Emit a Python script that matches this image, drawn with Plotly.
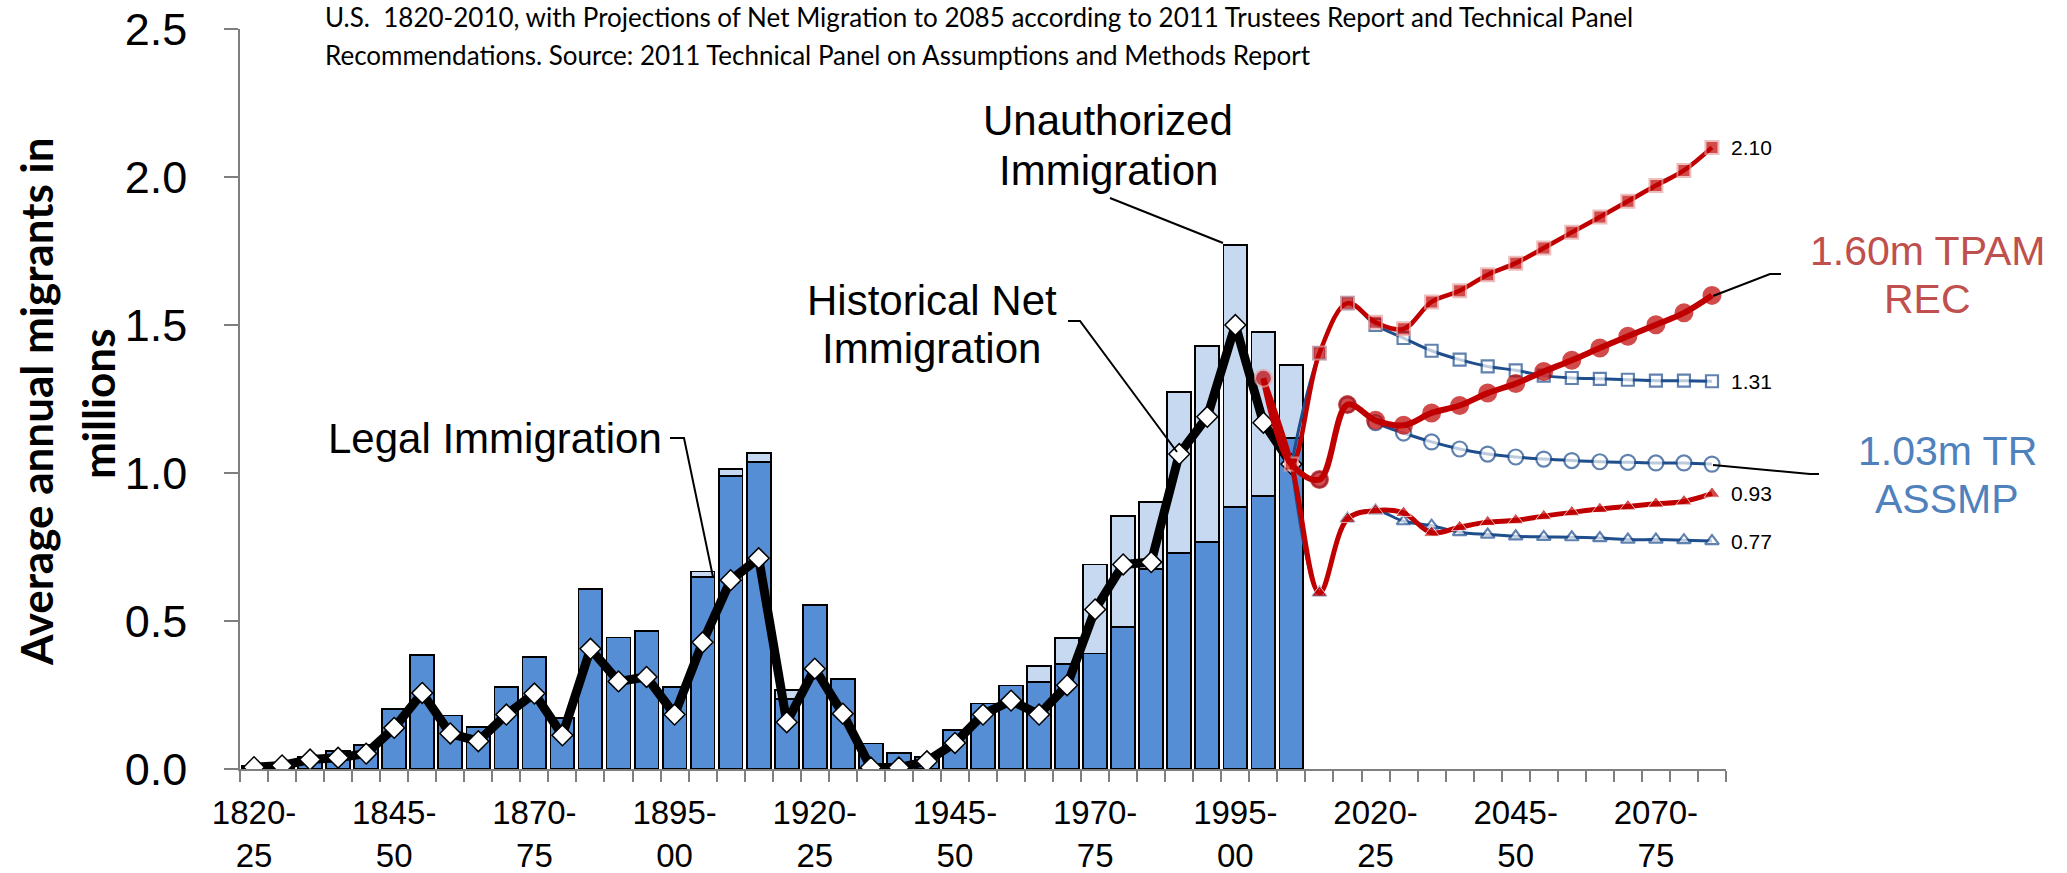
import plotly.graph_objects as go

# ---------------- data ----------------
period_labels = [f"{y}-{str(y + 5)[-2:]}" for y in range(1820, 2085, 5)]  # 1820-25 ... 2080-85

tick_positions = [0, 5, 10, 15, 20, 25, 30, 35, 40, 45, 50]
tick_labels = ["1820-<br>25", "1845-<br>50", "1870-<br>75", "1895-<br>00", "1920-<br>25",
               "1945-<br>50", "1970-<br>75", "1995-<br>00", "2020-<br>25", "2045-<br>50",
               "2070-<br>75"]

# historical (1820-25 .. 2005-10), millions per year
legal = [0.010, 0.020, 0.042, 0.060, 0.080, 0.204, 0.384, 0.181, 0.142, 0.278,
         0.378, 0.173, 0.608, 0.444, 0.465, 0.278, 0.650, 0.989, 1.036, 0.237,
         0.555, 0.305, 0.086, 0.055, 0.041, 0.133, 0.221, 0.282, 0.293, 0.356,
         0.390, 0.480, 0.676, 0.730, 0.767, 0.885, 0.921, 1.118]
unauthorized = [0, 0, 0, 0, 0, 0, 0, 0, 0, 0,
                0, 0, 0, 0, 0, 0, 0.017, 0.025, 0.031, 0.031,
                0, 0, 0, 0, 0, 0, 0, 0, 0.054, 0.087,
                0.301, 0.374, 0.227, 0.543, 0.661, 0.886, 0.555, 0.248]
net_hist = [0.006, 0.012, 0.032, 0.038, 0.052, 0.139, 0.257, 0.120, 0.094, 0.184,
            0.255, 0.114, 0.406, 0.296, 0.311, 0.184, 0.428, 0.638, 0.712, 0.158,
            0.339, 0.187, 0.005, 0.005, 0.026, 0.088, 0.184, 0.231, 0.184, 0.283,
            0.539, 0.691, 0.699, 1.064, 1.190, 1.500, 1.170, 1.030]

# projections: Technical Panel (red) start at 2000-05, Trustees (blue) at 2005-10
tpam_high = [1.32, 1.03, 1.405, 1.574, 1.509, 1.487, 1.578, 1.616, 1.670, 1.709,
             1.760, 1.813, 1.865, 1.918, 1.971, 2.022, 2.10]
tpam_mid = [1.32, 1.03, 0.978, 1.231, 1.178, 1.161, 1.203, 1.228, 1.270, 1.302,
            1.343, 1.381, 1.422, 1.462, 1.501, 1.541, 1.60]
tpam_low = [1.32, 1.03, 0.595, 0.845, 0.873, 0.865, 0.798, 0.817, 0.834, 0.840,
            0.854, 0.867, 0.878, 0.887, 0.896, 0.904, 0.93]
tr_high = [1.03, 1.405, 1.574, 1.500, 1.456, 1.413, 1.383, 1.360, 1.347, 1.329,
           1.321, 1.318, 1.315, 1.312, 1.312, 1.31]
tr_mid = [1.03, 0.978, 1.231, 1.170, 1.135, 1.105, 1.081, 1.064, 1.054, 1.047,
          1.042, 1.038, 1.036, 1.034, 1.034, 1.03]
tr_low = [1.03, 0.595, 0.845, 0.873, 0.837, 0.822, 0.800, 0.792, 0.786, 0.784,
          0.783, 0.780, 0.775, 0.775, 0.773, 0.77]

# ---------------- geometry helpers (window pixel -> paper) ----------------
W, H = 2067, 873
PL, PR, PT, PB = 240, 1726, 29, 769   # plot area in pixels


def px(x):
    return (x - PL) / (PR - PL)


def py(y):
    return (PB - y) / (PB - PT)


n_hist = len(legal)
x_hist = list(range(n_hist))
x_tpam = list(range(36, 36 + len(tpam_high)))
x_tr = list(range(37, 37 + len(tr_high)))

RED = "#C00000"
BLUE = "#1F4E8C"

fig = go.Figure()

fig.add_trace(go.Bar(
    x=x_hist, y=legal, name="Legal Immigration",
    marker=dict(color="#558ED5", line=dict(color="black", width=1.8)),
))
fig.add_trace(go.Bar(
    x=x_hist, y=[v if v > 0 else None for v in unauthorized], name="Unauthorized Immigration",
    marker=dict(color="#C6D9F1", line=dict(color="black", width=1.8)),
))
fig.add_trace(go.Scatter(
    x=x_hist, y=net_hist, mode="lines+markers", name="Historical Net Immigration",
    line=dict(color="black", width=9),
    marker=dict(symbol="diamond", size=16, color="white", line=dict(color="black", width=1.5)),
))

# Trustees (blue) projections (white-filled markers)
for ys, sym, sz in [(tr_high, "square", 12), (tr_mid, "circle", 15), (tr_low, "triangle-up", 12)]:
    fig.add_trace(go.Scatter(
        x=x_tr, y=ys, mode="lines+markers",
        line=dict(color=BLUE, width=3, shape="spline", smoothing=1),
        marker=dict(symbol=sym, size=[0] + [sz] * (len(ys) - 1), color="white",
                    line=dict(color=BLUE, width=2.2)),
    ))

# Technical panel (red) projections
fig.add_trace(go.Scatter(
    x=x_tpam, y=tpam_low, mode="lines+markers",
    line=dict(color=RED, width=5, shape="spline", smoothing=1),
    marker=dict(symbol="triangle-up", size=[0, 0] + [14] * (len(tpam_low) - 2), color=RED),
))
fig.add_trace(go.Scatter(
    x=x_tpam, y=tpam_high, mode="lines+markers",
    line=dict(color=RED, width=4.5, shape="spline", smoothing=1),
    marker=dict(symbol="square", size=[0] + [13] * (len(tpam_high) - 1), color=RED,
                line=dict(color="#E6A3A3", width=2)),
))
fig.add_trace(go.Scatter(
    x=x_tpam, y=tpam_mid, mode="lines+markers",
    line=dict(color=RED, width=6, shape="spline", smoothing=1),
    marker=dict(symbol="circle", size=[17, 0] + [17] * (len(tpam_mid) - 2), color=RED,
                line=dict(color=["#E6A3A3"] + [RED] * (len(tpam_mid) - 1), width=2)),
))

# ---------------- annotations ----------------
ARIAL = "Liberation Sans, Arial, sans-serif"
ann = []


def text(x, y, s, size, color="black", anchor="center", family=ARIAL, angle=0, bold=False):
    ann.append(dict(x=px(x), y=py(y), xref="paper", yref="paper", text=s, showarrow=False,
                    xanchor=anchor, yanchor="middle", textangle=angle,
                    font=dict(family=family, size=size, color=color,
                              weight="bold" if bold else "normal")))


TITLE_FONT = "Lato, Open Sans, sans-serif"
text(323, 17, "U.S.  1820-2010, with Projections of Net Migration to 2085 according to 2011 Trustees Report and Technical Panel",
     26, anchor="left", family=TITLE_FONT)
text(323, 55, "Recommendations. Source: 2011 Technical Panel on Assumptions and Methods Report",
     26, anchor="left", family=TITLE_FONT)

# y-axis title
text(36, 402, "Average annual migrants in", 44, family=TITLE_FONT, angle=-90, bold=True)
text(98, 404, "millions", 44, family=TITLE_FONT, angle=-90, bold=True)

text(664, 438, "Legal Immigration", 42, anchor="right")
text(932, 300, "Historical Net", 42)
text(931, 348, "Immigration", 42)
text(1108, 121, "Unauthorized", 42)
text(1108, 170, "Immigration", 42)
text(1927, 251, "1.60m TPAM", 41, color="#C0504D")
text(1927, 299, "REC", 41, color="#C0504D")
text(1947, 451, "1.03m TR", 41, color="#4F81BD")
text(1947, 499, "ASSMP", 41, color="#4F81BD")

# end-value labels, drawn from the series
for series in (tpam_high, tr_high, tpam_low, tr_low):
    ann.append(dict(x=52, y=series[-1], xref="x", yref="y", text=f"{series[-1]:.2f}",
                    showarrow=False, xanchor="left", yanchor="middle", xshift=17,
                    font=dict(family=ARIAL, size=21, color="black")))


def leader(points):
    d = "M " + " L ".join(f"{px(a)},{py(b)}" for a, b in points)
    return dict(type="path", path=d, xref="paper", yref="paper",
                line=dict(color="black", width=2), layer="above")


shapes = [
    leader([(670, 438), (684, 438), (713, 577)]),
    leader([(1068, 321), (1080, 321), (1177, 452)]),
    leader([(1110, 198), (1223, 243)]),
    leader([(1713, 296), (1770, 274), (1781, 274)]),
    leader([(1713, 465), (1810, 474), (1819, 474)]),
]

fig.update_layout(
    width=W, height=H,
    margin=dict(l=PL, r=W - PR, t=PT, b=H - PB, autoexpand=False),
    plot_bgcolor="white", paper_bgcolor="white",
    barmode="stack", bargap=0.15,
    showlegend=False,
    annotations=ann, shapes=shapes,
)
fig.update_xaxes(
    automargin=False, ticklabeloverflow="allow",
    range=[-0.5, 52.5], tickmode="array", tickvals=tick_positions, ticktext=tick_labels,
    showline=True, linecolor="#7F7F7F", linewidth=1.5, showgrid=False, zeroline=False,
    ticks="outside", ticklen=0, tickcolor="rgba(0,0,0,0)", ticklabelstandoff=14,
    tickfont=dict(family=ARIAL, size=33, color="black"),
    minor=dict(tickmode="linear", tick0=-0.5, dtick=1, ticks="outside", ticklen=11,
               tickcolor="#7F7F7F", tickwidth=1.5, showgrid=False),
)
fig.update_yaxes(
    automargin=False, ticklabeloverflow="allow",
    range=[0, 2.5], tickmode="linear", tick0=0, dtick=0.5, tickformat=".1f",
    showline=True, linecolor="#7F7F7F", linewidth=1.5, showgrid=False, zeroline=False,
    ticks="outside", ticklen=14, tickcolor="#7F7F7F", tickwidth=1.5, ticklabelstandoff=28,
    tickfont=dict(family=ARIAL, size=45, color="black"),
)

# remove the default page margin so the figure fills the window exactly
fig.write_html("out.html", config={"displayModeBar": False},
               post_script="document.body.style.margin='0';document.body.style.overflow='hidden';")
